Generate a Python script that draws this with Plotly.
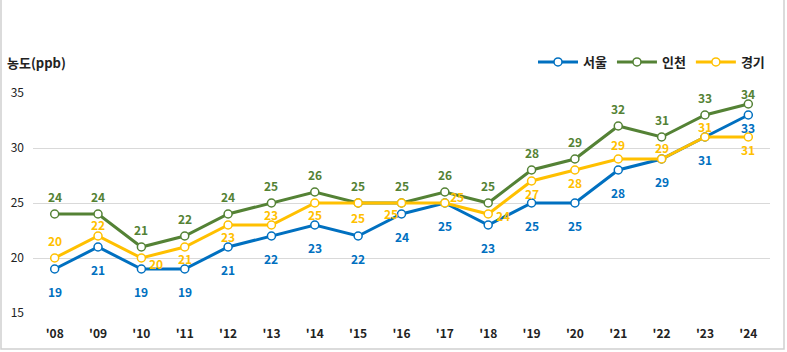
import plotly.graph_objects as go

years = ["'08","'09","'10","'11","'12","'13","'14","'15","'16","'17","'18","'19","'20","'21","'22","'23","'24"]
seoul = [19, 21, 19, 19, 21, 22, 23, 22, 24, 25, 23, 25, 25, 28, 29, 31, 33]
incheon = [24, 24, 21, 22, 24, 25, 26, 25, 25, 26, 25, 28, 29, 32, 31, 33, 34]
gyeonggi = [20, 22, 20, 21, 23, 23, 25, 25, 25, 25, 24, 27, 28, 29, 29, 31, 31]

names = ["서울", "인천", "경기"]
colors = ["#0070C0", "#548235", "#FFC000"]

# label offsets in pixels (dx, dy; dy positive = downward)
seoul_off = [(0, 22)] * 16 + [(0, 12)]
incheon_off = [(0, -18)] * 16 + [(0, -11)]
gyeonggi_off = [(0, -18), (0, -12), (15, 5), (0, 11), (0, 11), (0, -11), (0, 11), (0, 14),
                (-11, 10), (12, -7), (15, 1), (0, 12), (0, 12), (0, -15), (0, -12), (0, -11), (0, 12)]
offsets = [seoul_off, incheon_off, gyeonggi_off]

x = list(range(len(years)))
fig = go.Figure()
annotations = []
for name, vals, col, offs in zip(names, [seoul, incheon, gyeonggi], colors, offsets):
    fig.add_trace(go.Scatter(
        x=x, y=vals, name=name, mode="lines+markers",
        line=dict(color=col, width=3),
        marker=dict(symbol="circle", size=8, color="white", line=dict(color=col, width=1.5)),
        cliponaxis=False,
    ))
    for xi, v, (dx, dy) in zip(x, vals, offs):
        annotations.append(dict(
            x=xi, y=v, xref="x", yref="y", text=f"<b>{v}</b>", showarrow=False,
            xshift=dx, yshift=-dy, xanchor="center", yanchor="middle",
            font=dict(color=col, size=12, family="Noto Sans CJK KR"),
        ))

L, R, T, B = 33, 17, 93, 39
W, H = 787, 352
pw, ph = W - L - R, H - T - B

annotations.append(dict(text="<b>농도(ppb)</b>", xref="paper", yref="paper",
                        x=-28 / pw, y=1 + 31 / ph, xanchor="left", yanchor="middle",
                        showarrow=False, font=dict(size=13, color="#222")))

fig.update_layout(
    width=W, height=H,
    margin=dict(l=L, r=R, t=T, b=B),
    paper_bgcolor="white", plot_bgcolor="white",
    font=dict(family="Noto Sans CJK KR", size=12, color="#222"),
    showlegend=True,
    legend=dict(orientation="h", x=1.0, xanchor="right", y=1 + 31 / ph, yanchor="middle",
                font=dict(size=13, weight="bold", color="#222"), itemwidth=40,
                bgcolor="rgba(0,0,0,0)", traceorder="normal"),
    xaxis=dict(tickmode="array", tickvals=x, ticktext=years, range=[-0.5, len(years) - 0.5],
               showgrid=False, zeroline=False, showline=False, ticks="",
               ticklabelstandoff=12,
               tickfont=dict(size=12, weight="bold", color="#222")),
    yaxis=dict(range=[15, 35], dtick=5, showgrid=True, gridcolor="#D9D9D9", gridwidth=1,
               zeroline=False, showline=False, ticks="", ticklabelstandoff=8,
               tickfont=dict(size=12, color="#222")),
    annotations=annotations,
    shapes=[dict(type="rect", xref="paper", yref="paper",
                 x0=-(L - 1) / pw, x1=1 + (R - 3) / pw,
                 y0=-(B - 3) / ph, y1=1 + (T + 2) / ph,
                 line=dict(color="#D0D0D0", width=1.5), layer="below")],
)

fig.write_html("out.html")
